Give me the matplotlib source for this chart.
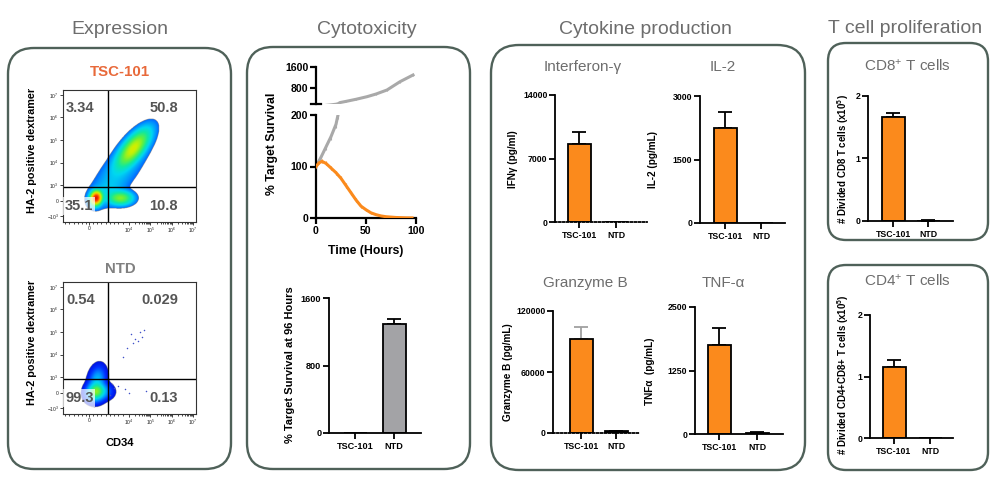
import numpy as np
import matplotlib
matplotlib.use("Agg")
import matplotlib.pyplot as plt
from matplotlib.patches import FancyBboxPatch
from matplotlib.colors import LinearSegmentedColormap

plt.rcParams['font.family'] = ['Liberation Sans', 'DejaVu Sans']
plt.rcParams['mathtext.fontset'] = 'custom'
plt.rcParams['mathtext.rm'] = 'Liberation Sans'
plt.rcParams['mathtext.bf'] = 'Liberation Sans:bold'
plt.rcParams['mathtext.it'] = 'Liberation Sans:italic'

# ---------------- data ----------------
GROUPS = ["TSC-101", "NTD"]

# flow cytometry quadrant percentages (UL, UR, LL, LR)
TSC_QUAD = ["3.34", "50.8", "35.1", "10.8"]
NTD_QUAD = ["0.54", "0.029", "99.3", "0.13"]

# flow populations in display-decade units (centre x, centre y, sd x, sd y, corr, weight)
TSC_CX = [4.20, 2.45, 3.60, 3.50, 2.9]
TSC_CY = [4.62, 2.42, 2.42, 3.55, 2.6]
TSC_SX = [0.40, 0.14, 0.30, 0.70, 0.45]
TSC_SY = [0.44, 0.16, 0.16, 0.75, 0.32]
TSC_RHO = [0.70, 0.1, 0.0, 0.70, 0.3]
TSC_W = [0.50, 0.30, 0.12, 0.10, 0.03]

NTD_CX = [2.45, 2.50, 2.75]
NTD_CY = [2.35, 2.85, 2.35]
NTD_SX = [0.20, 0.18, 0.22]
NTD_SY = [0.19, 0.28, 0.16]
NTD_RHO = [0.1, 0.2, 0.0]
NTD_W = [0.75, 0.17, 0.08]
NTD_SPARSE_X = [4.1, 4.3, 4.5, 4.6, 3.9, 4.2, 4.4, 4.7, 3.7, 4.8, 3.3, 3.5, 4.0, 3.2, 3.8, 3.1]
NTD_SPARSE_Y = [4.9, 4.7, 5.0, 4.8, 4.3, 4.5, 4.6, 5.1, 3.9, 2.4, 2.5, 2.6, 2.3, 2.7, 2.45, 2.2]

# cytotoxicity time course
TIME_TSC = [0, 3, 6, 10, 15, 20, 25, 30, 35, 40, 45, 50, 55, 60, 65, 70, 80, 90, 96]
SURV_TSC = [100, 107, 110, 106, 97, 88, 77, 63, 49, 35, 23, 16, 10, 6.5, 4, 2.5, 1, 0.3, 0.2]
SURV_TSC_ERR = [2, 3, 4, 4, 4, 4, 4, 4, 4, 3, 3, 2, 2, 1, 1, 1, 0.5, 0.3, 0.2]
TIME_NTD = [0, 5, 10, 15, 20, 22, 24, 30, 40, 51, 60, 71, 84, 97]
SURV_NTD = [100, 118, 138, 158, 182, 200, 245, 290, 370, 469, 570, 724, 1040, 1295]
SURV_NTD_ERR = [2, 4, 5, 6, 7, 8, 12, 15, 20, 25, 30, 35, 40, 45]

SURV96 = [0, 1292]
SURV96_ERR = [0, 59]
IFNG = [8600, 0]
IFNG_ERR = [1320, 0]
IL2 = [2244, 8]
IL2_ERR = [378, 0]
GZMB = [92500, 1800]
GZMB_ERR = [11800, 300]
TNFA = [1752, 25]
TNFA_ERR = [335, 5]
CD8_DIV = [1.664, 0.0]
CD8_DIV_ERR = [0.065, 0.02]
CD4_DIV = [1.154, 0.0]
CD4_DIV_ERR = [0.114, 0.0]

# ---------------- figure ----------------
W, H = 993, 483
fig = plt.figure(figsize=(W / 100, H / 100), dpi=100)
fig.patch.set_facecolor('white')

bg = fig.add_axes([0, 0, 1, 1])
bg.set_xlim(0, W)
bg.set_ylim(H, 0)
bg.axis('off')
bg.set_zorder(10)


def add_ax(l, t, r, b):
    ax = fig.add_axes([l / W, 1 - b / H, (r - l) / W, (b - t) / H])
    ax.set_zorder(2)
    ax.patch.set_alpha(0)
    return ax


BOX_EC = '#4f6159'
for (x0, y0, x1, y1, rr) in [(8, 48, 231, 469, 26), (247, 47, 470, 469, 26),
                             (491, 45, 805, 470, 28), (828, 43, 988, 240, 18),
                             (828, 265, 988, 470, 18)]:
    bg.add_patch(FancyBboxPatch((x0, y0), x1 - x0, y1 - y0,
                                boxstyle=f"round,pad=0,rounding_size={rr}",
                                fc='none', ec=BOX_EC, lw=1.7))

GREY = '#6d6d6d'
for (x, y, s) in [(120, 34, "Expression"), (367, 34, "Cytotoxicity"),
                  (645, 34, "Cytokine production"), (905, 33, "T cell proliferation")]:
    bg.text(x, y, s, ha='center', va='baseline', fontsize=14, color=GREY)

for (x, y, s) in [(583, 71, "Interferon-γ"), (723, 71, "IL-2"), (585, 287, "Granzyme B"),
                  (723, 287, "TNF-α"), (907, 71, "CD8$^{+}$ T cells"), (907, 286, "CD4$^{+}$ T cells")]:
    bg.text(x, y, s, ha='center', va='baseline', fontsize=11, color=GREY)

# ---------------- flow plots ----------------
FX = np.linspace(0.9, 7.14, 420)
FY = np.linspace(1.36, 7.22, 420)
GX, GY = np.meshgrid(FX, FY)


def density(cx, cy, sx, sy, rho, w):
    d = np.zeros_like(GX)
    for a, b, c, e, r, k in zip(cx, cy, sx, sy, rho, w):
        u = (GX - a) / c
        v = (GY - b) / e
        q = (u * u - 2 * r * u * v + v * v) / (1 - r * r)
        d += k / (2 * np.pi * c * e * np.sqrt(1 - r * r)) * np.exp(-0.5 * q)
    return d


flow_cmap = LinearSegmentedColormap.from_list(
    'flow', ['#0000d0', '#0030ff', '#0090ff', '#00d8f0', '#10e8a0', '#60f040', '#d0f000',
             '#ffb000', '#ff4000', '#d00000'])


def flow_panel(rect, dens, vmax_frac, thr, power, sparse=None):
    ax = add_ax(*rect)
    rel = dens / dens.max()
    inten = rel ** power * vmax_frac
    inten = np.ma.masked_where(dens < thr, inten)
    ax.imshow(inten, extent=(FX[0], FX[-1], FY[0], FY[-1]), origin='lower',
              cmap=flow_cmap, vmin=0, vmax=1, aspect='auto', interpolation='bilinear')
    if sparse is not None:
        ax.scatter(sparse[0], sparse[1], s=1.2, color='#4050c8', lw=0)
    ax.set_xlim(FX[0], FX[-1])
    ax.set_ylim(FY[0], FY[-1])
    ax.axvline(3.0, color='k', lw=1.0)
    ax.axhline(2.91, color='k', lw=1.0)
    ax.set_xticks([2.12, 4, 5, 6, 7])
    ax.set_xticklabels(['0', '$10^4$', '$10^5$', '$10^6$', '$10^7$'])
    minor = [1.0, 1.2, 1.4, 1.6, 1.8, 2.0, 2.3, 2.5, 2.7, 2.9, 3.1, 3.3, 3.5, 3.7]
    for d0 in [4, 5, 6]:
        minor += [d0 + np.log10(k) for k in range(2, 10)]
    ax.set_xticks(minor, minor=True)
    ax.set_yticks([1.62, 2.29, 3, 4, 5, 6, 7])
    ax.set_yticklabels(['$-10^3$', '0', '$10^3$', '$10^4$', '$10^5$', '$10^6$', '$10^7$'])
    ax.tick_params(labelsize=3.6, length=2, width=0.6, pad=1, colors='#222')
    ax.tick_params(which='minor', length=1.3, width=0.5)
    for s in ax.spines.values():
        s.set_linewidth(0.8)
        s.set_color('#333')
    return ax


tsc_d = density(TSC_CX, TSC_CY, TSC_SX, TSC_SY, TSC_RHO, TSC_W)
ntd_d = density(NTD_CX, NTD_CY, NTD_SX, NTD_SY, NTD_RHO, NTD_W)
flow_panel((63, 90, 196, 222), tsc_d, 0.97, 7e-3, 0.30)
flow_panel((63, 282, 196, 414), ntd_d, 0.6, 5e-3, 0.40, (NTD_SPARSE_X, NTD_SPARSE_Y))

QC = '#555555'
PALE = dict(boxstyle='square,pad=0.12', fc='white', ec='none', alpha=0.72)
for (yb, q) in [(0, TSC_QUAD), (192, NTD_QUAD)]:
    bg.text(66, 112 + yb, q[0], ha='left', va='baseline', fontsize=10.5, fontweight='bold', color=QC)
    bg.text(178, 112 + yb, q[1], ha='right', va='baseline', fontsize=10.5, fontweight='bold', color=QC)
    bg.text(65, 210 + yb, q[2], ha='left', va='baseline', fontsize=10.5, fontweight='bold', color=QC,
            bbox=PALE)
    bg.text(178, 210 + yb, q[3], ha='right', va='baseline', fontsize=10.5, fontweight='bold', color=QC)

bg.text(120, 76, "TSC-101", ha='center', va='baseline', fontsize=10.8, fontweight='bold', color='#e8693a')
bg.text(120, 273, "NTD", ha='center', va='baseline', fontsize=10.8, fontweight='bold', color='#808080')
bg.text(32, 150, "HA-2 positive dextramer", rotation=90, ha='center', va='center', fontsize=7.8, fontweight='bold')
bg.text(32, 342, "HA-2 positive dextramer", rotation=90, ha='center', va='center', fontsize=7.8, fontweight='bold')
bg.text(120, 446, "CD34", ha='center', va='baseline', fontsize=8, fontweight='bold')

# ---------------- cytotoxicity time course ----------------
ORANGE = '#fb8a1c'
LGREY = '#a9a9a9'


def style_axes(ax, lw=1.4):
    for s in ['top', 'right']:
        ax.spines[s].set_visible(False)
    for s in ['left', 'bottom']:
        ax.spines[s].set_linewidth(lw)
    ax.tick_params(direction='out', width=lw, length=4, pad=1.5)


ax_lo = add_ax(316, 115, 416, 218)
ax_hi = add_ax(316, 67, 416, 103.75)
for ax, lim in [(ax_lo, (0, 200)), (ax_hi, (200, 1600))]:
    ax.errorbar(TIME_NTD, SURV_NTD, yerr=SURV_NTD_ERR, color=LGREY, lw=2.2, elinewidth=0.8, capsize=0, zorder=2)
    ax.errorbar(TIME_TSC, SURV_TSC, yerr=SURV_TSC_ERR, color=ORANGE, lw=2.2, elinewidth=0.8, capsize=0, zorder=3)
    ax.set_xlim(0, 100)
    ax.set_ylim(*lim)
    style_axes(ax, 1.6)
ax_lo.set_yticks([0, 100, 200])
ax_lo.set_xticks([0, 50, 100])
ax_hi.set_yticks([800, 1600])
ax_hi.spines['bottom'].set_visible(False)
ax_hi.set_xticks([])
ax_hi.plot([-0.05, 0.05], [0, 0], transform=ax_hi.transAxes, color='k', lw=1.6, clip_on=False)
for ax in (ax_lo, ax_hi):
    for lab in ax.get_xticklabels() + ax.get_yticklabels():
        lab.set_fontweight('bold')
        lab.set_fontsize(7.6)
bg.text(272, 144, "% Target Survival", rotation=90, ha='center', va='center', fontsize=8.8, fontweight='bold')
bg.text(366, 254, "Time (Hours)", ha='center', va='baseline', fontsize=8.8, fontweight='bold')


# ---------------- bar panels ----------------
def bar_panel(l, r, t0, t1, top, bot, ymax, yticks, vals, errs, colors,
              ecolors=('k', 'k'), dotted=False, fs=6.3, barpx=23):
    ax = add_ax(l, top, r, bot)
    s = t1 - t0
    ax.set_xlim((l - t0) / s, 1 + (r - t1) / s)
    ax.set_ylim(0, ymax)
    x = np.arange(len(vals))
    ax.bar(x, vals, width=barpx / s, color=colors, edgecolor='k', linewidth=1.3, zorder=2)
    for xi, v, e, ec in zip(x, vals, errs, ecolors):
        if e > 0:
            ax.errorbar([xi], [v], yerr=[[0], [e]], fmt='none', ecolor=ec, elinewidth=1.3,
                        capsize=5, capthick=1.3, zorder=1)
    style_axes(ax, 1.3)
    if dotted:
        ax.spines['bottom'].set_linestyle((0, (1, 1.2)))
    ax.set_xticks(x)
    ax.set_xticklabels(GROUPS)
    ax.set_yticks(yticks)
    ax.set_yticklabels([str(t) for t in yticks])
    for lab in ax.get_xticklabels() + ax.get_yticklabels():
        lab.set_fontweight('bold')
        lab.set_fontsize(fs)
    ax.tick_params(axis='x', pad=2.5)
    return ax


bar_panel(329, 421, 355, 394, 298, 433, 1600, [0, 800, 1600], SURV96, SURV96_ERR,
          [ORANGE, '#a3a3a6'], fs=6.6)
bg.text(290, 365, "% Target Survival at 96 Hours", rotation=90, ha='center', va='center',
        fontsize=8, fontweight='bold')

bar_panel(555, 647, 579, 616, 95, 222, 14000, [0, 7000, 14000], IFNG, IFNG_ERR,
          [ORANGE, ORANGE], dotted=True)
bg.text(513, 159, "IFNγ (pg/ml)", rotation=90, ha='center', va='center', fontsize=7.2, fontweight='bold')

bar_panel(700, 785, 725, 761, 96, 223, 3000, [0, 1500, 3000], IL2, IL2_ERR, [ORANGE, ORANGE])
bg.text(653, 159, "IL-2 (pg/mL)", rotation=90, ha='center', va='center', fontsize=7.2, fontweight='bold')

bar_panel(553, 639, 581, 616, 311, 433, 120000, [0, 60000, 120000], GZMB, GZMB_ERR,
          [ORANGE, 'k'], ecolors=('#a0a0a0', 'k'), dotted=True)
bg.text(508, 372, "Granzyme B (pg/mL)", rotation=90, ha='center', va='center', fontsize=7.2, fontweight='bold')

bar_panel(695, 783, 719, 757, 307, 434, 2500, [0, 1250, 2500], TNFA, TNFA_ERR, [ORANGE, 'k'])
bg.text(650, 371, "TNFα  (pg/mL)", rotation=90, ha='center', va='center', fontsize=7.2, fontweight='bold')

bar_panel(868, 953, 893, 928, 96, 221, 2, [0, 1, 2], CD8_DIV, CD8_DIV_ERR, [ORANGE, ORANGE])
bg.text(843, 159, r"# Divided CD8 T cells (x10$^{\mathbf{5}}$)", rotation=90, ha='center', va='center',
        fontsize=7.0, fontweight='bold')

bar_panel(870, 953, 894, 930, 315, 438, 2, [0, 1, 2], CD4_DIV, CD4_DIV_ERR, [ORANGE, ORANGE])
bg.text(843, 375, r"# Divided CD4+CD8+ T cells (x10$^{\mathbf{5}}$)", rotation=90, ha='center', va='center',
        fontsize=7.0, fontweight='bold')

fig.savefig("out.png", dpi=100, facecolor='white')
